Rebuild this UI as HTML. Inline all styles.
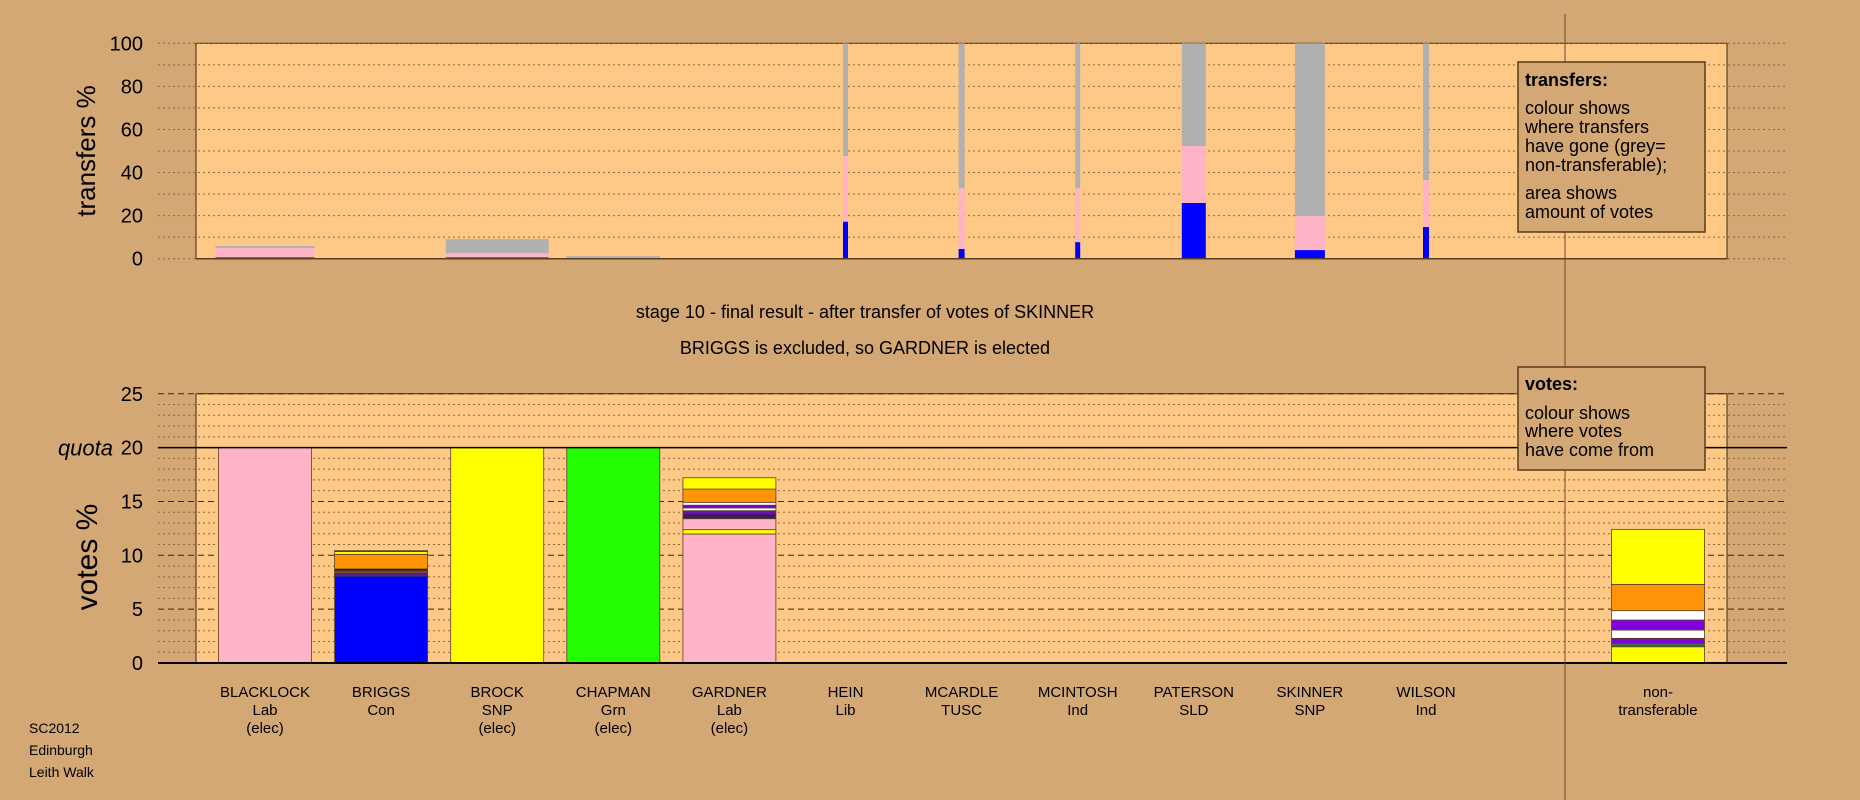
<!DOCTYPE html>
<html><head><meta charset="utf-8"><style>
html,body{margin:0;padding:0;background:#d3a874;}
svg{display:block;font-family:"Liberation Sans",sans-serif;}
</style></head><body>
<svg id="chart" width="1860" height="800" viewBox="0 0 1860 800">
<rect width="1860" height="800" fill="#d3a874"/>
<g id="topg"></g>
<g id="botg"></g>
<line x1="1565" y1="14" x2="1565" y2="800" stroke="#6b4a2a" stroke-width="1"/>
<text x="865" y="318" font-size="18" text-anchor="middle" fill="#000">stage 10 - final result - after transfer of votes of SKINNER</text>
<text x="865" y="354" font-size="18" text-anchor="middle" fill="#000">BRIGGS is excluded, so GARDNER is elected</text>
<g>
<rect x="1518" y="62" width="187" height="170" fill="#d3a874" stroke="#5a3a1a" stroke-width="1.5"/>
<text x="1525" y="86" font-size="18" font-weight="bold">transfers:</text>
<text x="1525" y="114" font-size="18">colour shows</text>
<text x="1525" y="133" font-size="18">where transfers</text>
<text x="1525" y="152" font-size="18">have gone (grey=</text>
<text x="1525" y="171" font-size="18">non-transferable);</text>
<text x="1525" y="199" font-size="18">area shows</text>
<text x="1525" y="218" font-size="18">amount of votes</text>
</g>
<g>
<rect x="1518" y="367" width="187" height="103" fill="#d3a874" stroke="#5a3a1a" stroke-width="1.5"/>
<text x="1525" y="390" font-size="18" font-weight="bold">votes:</text>
<text x="1525" y="419" font-size="18">colour shows</text>
<text x="1525" y="437" font-size="18">where votes</text>
<text x="1525" y="456" font-size="18">have come from</text>
</g>
<g font-size="14" fill="#000">
<text x="29" y="733">SC2012</text>
<text x="29" y="755">Edinburgh</text>
<text x="29" y="777">Leith Walk</text>
</g>
</svg>
<script>
const candidates = ["BLACKLOCK","BRIGGS","BROCK","CHAPMAN","GARDNER","HEIN","MCARDLE","MCINTOSH","PATERSON","SKINNER","WILSON"];
const parties = ["Lab","Con","SNP","Grn","Lab","Lib","TUSC","Ind","SLD","SNP","Ind"];
const elected = [true,false,true,true,true,false,false,false,false,false,false];
const transferVolume = [99,0,103,94,0,5,6,5,24,30,6];
const transferBlue = [0.6,0,0.6,0.1,0,17.2,4.5,7.7,25.9,4,14.7];
const transferPink = [5.0,0,2.6,0.3,0,47.7,32.7,32.7,52.3,19.8,36.5];
const transferGrey = [5.9,0,9.1,1.2,0,100,100,100,100,100,100];
const topTicks = [0,20,40,60,80,100];
const bottomTicks = [0,5,10,15,20,25];
const voteStacks = [
 [[20,"#ffb3c6"]],
 [[8.08,"#0000ff"],[8.17,"#1a1a40"],[8.4,"#6a00c0"],[8.5,"#ffffff"],[8.6,"#3a1060"],[8.73,"#000000"],[10.09,"#ff9408"],[10.35,"#ffff00"],[10.43,"#3a2a10"]],
 [[20,"#ffff00"]],
 [[20,"#22ff00"]],
 [[11.98,"#ffb3c6"],[12.38,"#ffff00"],[13.4,"#ffb3c6"],[13.9,"#3a1a60"],[14.14,"#7a00d0"],[14.4,"#ffffff"],[14.65,"#7a00d0"],[14.92,"#ffffff"],[16.15,"#ff9408"],[17.2,"#ffff00"]],
 [],[],[],[],[],[]
];
const nonTransferable = [[1.51,"#ffff00"],[1.83,"#3a6a3a"],[2.29,"#8000e0"],[3.06,"#ffffff"],[3.99,"#8000e0"],[4.86,"#ffffff"],[7.3,"#ff9408"],[12.41,"#ffff00"]];
const quota = 20;

const NS="http://www.w3.org/2000/svg";
function mk(tag,attrs,parent){const e=document.createElementNS(NS,tag);for(const k in attrs)e.setAttribute(k,attrs[k]);parent.appendChild(e);return e;}
const colX = i => 265 + i*116.1;
const ntX = 1658;
const topY = v => 258.7 - v*2.154;
const botY = v => 663 - v*10.77;
const topG=document.getElementById('topg'), botG=document.getElementById('botg');

let p=mk('rect',{x:196,y:43.3,width:1531,height:215.4,fill:'#fec987',stroke:'#3a2a10','stroke-width':1},topG);


for(let v=0;v<=100;v+=10){
 let g=mk('line',{x1:158,x2:1787,y1:topY(v),y2:topY(v),stroke:'#8a6a40','stroke-width':1,'stroke-dasharray':'2,3'},topG);
 
 
}
topTicks.forEach(v=>{
 let t=mk('text',{x:143,y:topY(v)+7,'font-size':20,'text-anchor':'end'},topG);t.textContent=v;
 
 
});
let tt=mk('text',{x:0,y:0,'font-size':26,'text-anchor':'middle',transform:'translate(95,151) rotate(-90)'},topG);tt.textContent='transfers %';


candidates.forEach((c,i)=>{
 const w=transferVolume[i]; if(!w) return;
 const x=colX(i)-w/2;
 const segs=[[0,transferBlue[i],'#0000ff'],[transferBlue[i],transferPink[i],'#ffb3c6'],[transferPink[i],transferGrey[i],'#b0b0b0']];
 segs.forEach(s=>{
  let r=mk('rect',{x:x,y:topY(s[1]),width:w,height:Math.max(0,topY(s[0])-topY(s[1])),fill:s[2]},topG);
  
  
 });
});
mk('line',{x1:196,x2:1727,y1:topY(0),y2:topY(0),stroke:'#5a4020','stroke-width':1.5},topG);

p=mk('rect',{x:196,y:botY(25),width:1531,height:botY(0)-botY(25),fill:'#fec987',stroke:'#3a2a10','stroke-width':1},botG);


for(let v=0;v<=25;v++){
 let major=v%5===0;
 let g=mk('line',{x1:158,x2:1787,y1:botY(v),y2:botY(v),stroke:major?'#3a2a10':'#8a6a40','stroke-width':1,'stroke-dasharray':major?'6,4':'2,3'},botG);
 
 
}
bottomTicks.forEach(v=>{
 let t=mk('text',{x:143,y:botY(v)+7,'font-size':20,'text-anchor':'end'},botG);t.textContent=v;
 
 
});
let q=mk('text',{x:113,y:botY(quota)+8,'font-size':22,'font-style':'italic','text-anchor':'end'},botG);q.textContent='quota';


let vt=mk('text',{x:0,y:0,'font-size':30,'text-anchor':'middle',transform:'translate(97,557) rotate(-90)'},botG);vt.textContent='votes %';


function drawStack(stack,cx,name){
 let prev=0;
 stack.forEach(s=>{
  let r=mk('rect',{x:cx-46.5,y:botY(s[0]),width:93,height:botY(prev)-botY(s[0]),fill:s[1],stroke:'#5a4020','stroke-width':0.8},botG);
  
  
  prev=s[0];
 });
}
candidates.forEach((c,i)=>{
 drawStack(voteStacks[i],colX(i),c.toLowerCase());
 const lines=[c,parties[i]]; if(elected[i]) lines.push('(elec)');
 lines.forEach((l,k)=>{
  let t=mk('text',{x:colX(i),y:697+k*18,'font-size':15,'text-anchor':'middle'},botG);t.textContent=l;
  
  
 });
});
drawStack(nonTransferable,ntX,'non-transferable');
['non-','transferable'].forEach((l,k)=>{
 let t=mk('text',{x:ntX,y:697+k*18,'font-size':15,'text-anchor':'middle'},botG);t.textContent=l;
 
 
});
let ql=mk('line',{x1:158,x2:1787,y1:botY(quota),y2:botY(quota),stroke:'#000','stroke-width':1.5},botG);


let bl=mk('line',{x1:158,x2:1787,y1:botY(0),y2:botY(0),stroke:'#000','stroke-width':2},botG);


</script>
</body></html>
